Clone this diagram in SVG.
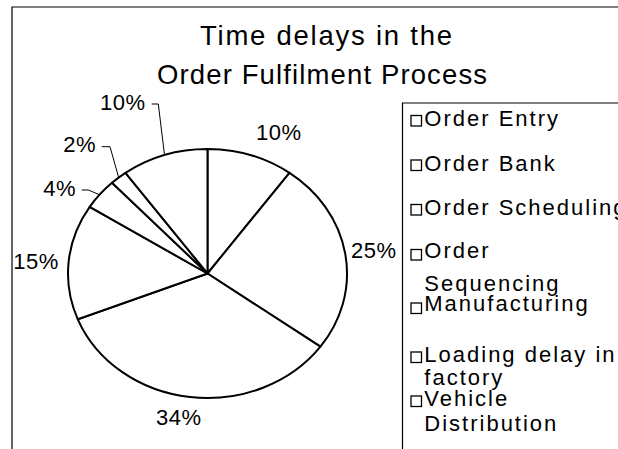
<svg xmlns="http://www.w3.org/2000/svg" width="618" height="449" viewBox="0 0 618 449">
<style>
text{font-family:"Liberation Sans",Arial,sans-serif;fill:#000}
.title{font-size:27.5px}
.pct{font-size:22px;letter-spacing:0.5px}
.leg{font-size:22px;letter-spacing:2px}
.slice{fill:#fff;stroke:#000;stroke-width:2;stroke-linejoin:round}
.lead{fill:none;stroke:#000;stroke-width:1}
.sw{fill:#fff;stroke:#000;stroke-width:1.3}
.frame{fill:none;stroke:#000;stroke-width:1.2}
</style>
<rect width="618" height="449" fill="#fff"/>
<g id="frame">
<path class="frame" d="M12 449 V7 H618"/>
</g>
<g id="title">
<text class="title" x="326" y="44.5" text-anchor="middle" textLength="252" lengthAdjust="spacing">Time delays in the</text>
<text class="title" x="322" y="83.5" text-anchor="middle" textLength="330" lengthAdjust="spacing">Order Fulfilment Process</text>
</g>
<g id="pie">
<path id="slice-order-entry" class="slice" d="M207.5 273.5 L207.5 149 A139.5 124.5 0 0 1 289.5 172.8 Z"/>
<path id="slice-order-bank" class="slice" d="M207.5 273.5 L289.5 172.8 A139.5 124.5 0 0 1 320.4 346.7 Z"/>
<path id="slice-order-scheduling" class="slice" d="M207.5 273.5 L320.4 346.7 A139.5 124.5 0 0 1 77.8 319.3 Z"/>
<path id="slice-order-sequencing" class="slice" d="M207.5 273.5 L77.8 319.3 A139.5 124.5 0 0 1 89.7 206.8 Z"/>
<path id="slice-manufacturing" class="slice" d="M207.5 273.5 L89.7 206.8 A139.5 124.5 0 0 1 112 182.7 Z"/>
<path id="slice-loading" class="slice" d="M207.5 273.5 L112 182.7 A139.5 124.5 0 0 1 125.5 172.8 Z"/>
<path id="slice-vehicle" class="slice" d="M207.5 273.5 L125.5 172.8 A139.5 124.5 0 0 1 207.5 149 Z"/>
</g>
<g id="leaders">
<polyline class="lead" points="151.7,104 158.3,104 164.5,155"/>
<polyline class="lead" points="101.7,146.7 110,146.7 118.5,177"/>
<polyline class="lead" points="81.7,190 88.3,190 99,194.5"/>
</g>
<g id="labels">
<text class="pct" x="256" y="140">10%</text>
<text class="pct" x="351" y="257.7">25%</text>
<text class="pct" x="156" y="425">34%</text>
<text class="pct" x="13.3" y="269.3">15%</text>
<text class="pct" x="43.3" y="196">4%</text>
<text class="pct" x="63.3" y="151.7">2%</text>
<text class="pct" x="100" y="110">10%</text>
</g>
<g id="legend">
<path class="frame" d="M402.5 449 V103 H618"/>
<g id="leg-order-entry"><rect class="sw" x="411" y="115.5" width="10.5" height="10.5"/><text class="leg" x="424.3" y="126">Order Entry</text></g>
<g id="leg-order-bank"><rect class="sw" x="411" y="160" width="10.5" height="10.5"/><text class="leg" x="424.3" y="170.7">Order Bank</text></g>
<g id="leg-order-scheduling"><rect class="sw" x="411" y="204.5" width="10.5" height="10.5"/><text class="leg" x="424.3" y="215">Order Scheduling</text></g>
<g id="leg-order-sequencing"><rect class="sw" x="411" y="249.5" width="10.5" height="10.5"/><text class="leg" x="424.3" y="258.3">Order</text><text class="leg" x="424.3" y="290.7">Sequencing</text></g>
<g id="leg-manufacturing"><rect class="sw" x="411" y="303" width="10.5" height="10.5"/><text class="leg" x="424.3" y="311">Manufacturing</text></g>
<g id="leg-loading"><rect class="sw" x="411" y="352" width="10.5" height="10.5"/><text class="leg" x="424.3" y="362">Loading delay in</text><text class="leg" x="424.3" y="385">factory</text></g>
<g id="leg-vehicle"><rect class="sw" x="411" y="396" width="10.5" height="10.5"/><text class="leg" x="424.3" y="406">Vehicle</text><text class="leg" x="424.3" y="431">Distribution</text></g>
</g>
</svg>
